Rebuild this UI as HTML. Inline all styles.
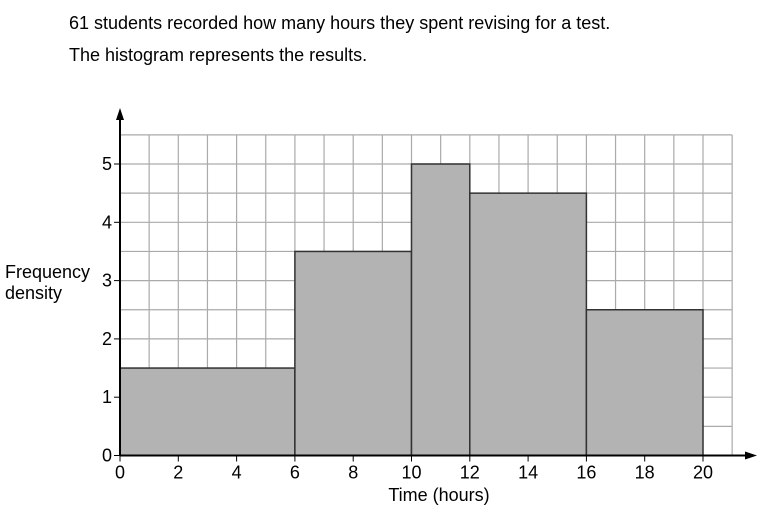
<!DOCTYPE html>
<html><head><meta charset="utf-8"><style>
body{margin:0;background:#fff;font-family:"Liberation Sans",Arial,sans-serif}
svg{display:block}
</style></head><body>
<svg width="780" height="521">
<text x="69" y="29" font-size="18" fill="#000">61 students recorded how many hours they spent revising for a test.</text>
<text x="69" y="61" font-size="18" fill="#000">The histogram represents the results.</text>
<g id="grid"></g>
<g id="bars"></g>
<g id="axes"></g>
<text x="5" y="278" font-size="18">Frequency</text>
<text x="5" y="299" font-size="18">density</text>
<text x="439" y="501" font-size="18" text-anchor="middle">Time (hours)</text>
</svg>
<script>
const binStarts=[0,6,10,12,16];
const binEnds=[6,10,12,16,20];
const densities=[1.5,3.5,5,4.5,2.5];
const xTicks=[0,2,4,6,8,10,12,14,16,18,20];
const yTicks=[0,1,2,3,4,5];
const NS="http://www.w3.org/2000/svg";
const X=v=>120+v*29.15, Y=v=>455.5-v*58.3;
function mk(p,t,a){const e=document.createElementNS(NS,t);for(const k in a)e.setAttribute(k,a[k]);p.appendChild(e);return e;}
const g=document.getElementById('grid');
for(let i=0;i<=21;i++){const l=mk(g,'line',{x1:X(i),x2:X(i),y1:Y(0),y2:Y(5.5),stroke:'#aaa','stroke-width':1.2});

}
for(let j=0;j<=11;j++){const l=mk(g,'line',{x1:X(0),x2:X(21),y1:Y(j/2),y2:Y(j/2),stroke:'#aaa','stroke-width':1.2});

}
const b=document.getElementById('bars');
densities.forEach((d,i)=>{const r=mk(b,'rect',{x:X(binStarts[i]),y:Y(d),width:X(binEnds[i])-X(binStarts[i]),height:Y(0)-Y(d),fill:'#b3b3b3',stroke:'#333','stroke-width':1.5});

});
const a=document.getElementById('axes');
mk(a,'line',{x1:X(0),x2:X(0),y1:Y(0),y2:118,stroke:'#000','stroke-width':2});
mk(a,'path',{d:`M${X(0)-4},120 L${X(0)},108 L${X(0)+4},120 Z`,fill:'#000'});
mk(a,'line',{x1:X(0),x2:748,y1:Y(0),y2:Y(0),stroke:'#000','stroke-width':2});
mk(a,'path',{d:`M745,${Y(0)-4} L757,${Y(0)} L745,${Y(0)+4} Z`,fill:'#000'});
xTicks.forEach(v=>{mk(a,'line',{x1:X(v),x2:X(v),y1:Y(0),y2:Y(0)+6,stroke:'#000'});
const t=mk(a,'text',{x:X(v),y:Y(0)+23,'font-size':18,'text-anchor':'middle'});t.textContent=v;

});
yTicks.forEach(v=>{mk(a,'line',{x1:X(0)-6,x2:X(0),y1:Y(v),y2:Y(v),stroke:'#000'});
const t=mk(a,'text',{x:X(0)-8,y:Y(v)+6,'font-size':18,'text-anchor':'end'});t.textContent=v;

});
</script>
</body></html>
